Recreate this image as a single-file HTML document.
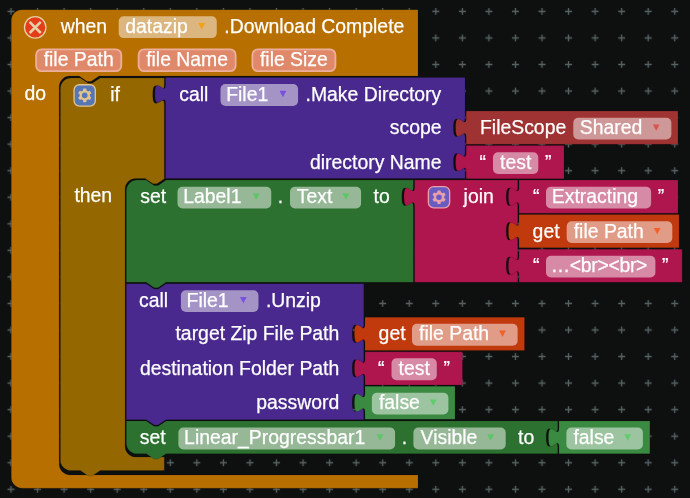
<!DOCTYPE html>
<html><head><meta charset="utf-8"><title>blocks</title>
<style>
html,body{margin:0;padding:0;background:#0e100f;}
body{width:690px;height:498px;overflow:hidden;}
svg{display:block;}
text{font-family:"Liberation Sans",sans-serif;white-space:pre;stroke:#fff;stroke-width:0.25px;stroke-linejoin:round;}
</style></head><body>
<svg width="690" height="498" viewBox="0 0 690 498">
<defs><pattern id="grid" x="-2.28" y="-1.88" width="26.55" height="26.55" patternUnits="userSpaceOnUse">
<path d="M 9.78,13.28 h 7 M 13.28,9.78 v 7" stroke="#586264" stroke-width="1.3" fill="none"/></pattern></defs>
<rect width="690" height="498" fill="#0e100f"/>
<rect width="690" height="498" fill="url(#grid)"/>
<g opacity="0.999">
<path d="M 21.92,9.7 H 418 V 76.08 H 99.03 l -7.96,5.31 -3.98,0 -7.96,-5.31 H 69.82 a 10.62,10.62 0 0,0 -10.62,10.62 V 464.28 a 10.62,10.62 0 0,0 10.62,10.62 H 418 V 488.2 H 21.92 a 10.62,10.62 0 0,1 -10.62,-10.62 V 20.32 a 10.62,10.62 0 0,1 10.62,-10.62 Z" fill="#b87000" stroke="#000" stroke-opacity="0.22" stroke-width="0.6" stroke-linejoin="round"/>
<circle cx="35.2" cy="27.4" r="10.7" fill="#e53e1a" stroke="#e9cfa3" stroke-width="1.3"/>
<path d="M 29.6,21.8 L 40.8,33 M 40.8,21.8 L 29.6,33" stroke="#ead2a8" stroke-width="2.6" fill="none"/>
<text transform="translate(60.7,32.7) scale(1,1.0)" fill="#fff" font-size="19.4">when</text>
<rect x="118.7" y="16.3" width="98.06" height="21.8" rx="5" ry="5" fill="#fff" fill-opacity="0.5"/>
<text transform="translate(125.19,32.8) scale(1,1.0)" fill="#fff" font-size="19.4">datazip</text>
<path d="M 198.26,23 h 6.8 l -3.4,6.4 z" fill="#f5a21b"/>
<text transform="translate(224.3,32.7) scale(1,1.0)" fill="#fff" font-size="19.4">.Download Complete</text>
<rect x="36.1" y="49.4" width="85.2" height="21.8" rx="5.5" ry="5.5" fill="#e08a6b" stroke="#eeb09c" stroke-width="1.8"/>
<text transform="translate(43.65,66.1) scale(1,1.0)" fill="#fff" font-size="19.4">file Path</text>
<rect x="138.6" y="49.4" width="97.04" height="21.8" rx="5.5" ry="5.5" fill="#e08a6b" stroke="#eeb09c" stroke-width="1.8"/>
<text transform="translate(146.15,66.1) scale(1,1.0)" fill="#fff" font-size="19.4">file Name</text>
<rect x="252.4" y="49.4" width="83.03" height="21.8" rx="5.5" ry="5.5" fill="#e08a6b" stroke="#eeb09c" stroke-width="1.8"/>
<text transform="translate(259.95,66.1) scale(1,1.0)" fill="#fff" font-size="19.4">file Size</text>
<text transform="translate(24.4,99.58) scale(1,1.0)" fill="#fff" font-size="19.4">do</text>
<path d="M 71.02,77.9 H 80.31 l 7.96,5.31 3.98,0 7.96,-5.31 H 164.3 v 6.64 c 0,13.27 -11.55,-10.62 -11.55,9.96 s 11.55,-3.32 11.55,9.96 V 178.39 H 164.92 l -7.96,5.31 -3.98,0 -7.96,-5.31 H 135.72 a 10.62,10.62 0 0,0 -10.62,10.62 V 446.38 a 10.62,10.62 0 0,0 10.62,10.62 H 164.3 V 470.6 H 100.22 l -7.96,5.31 -3.98,0 -7.96,-5.31 H 71.02 a 10.62,10.62 0 0,1 -10.62,-10.62 V 88.52 a 10.62,10.62 0 0,1 10.62,-10.62 Z" fill="#966800" stroke="#000" stroke-opacity="0.22" stroke-width="0.6" stroke-linejoin="round"/>
<g transform="translate(73.4,84.1) scale(1.33)">
<rect x="0.5" y="0.5" width="16" height="16" rx="4" ry="4" fill="#5877b6" stroke="#e3c48f" stroke-width="1"/>
<path transform="translate(0.5,0.5)" fill="#e3c48f" d="m4.203,7.296 0,1.368 -0.92,0.677 -0.11,0.41 0.9,1.559 0.41,0.11 1.043,-0.457 1.187,0.683 0.127,1.134 0.3,0.3 1.8,0 0.3,-0.299 0.127,-1.138 1.185,-0.682 1.046,0.458 0.409,-0.11 0.9,-1.559 -0.11,-0.41 -0.92,-0.677 0,-1.366 0.92,-0.677 0.11,-0.41 -0.9,-1.559 -0.409,-0.109 -1.046,0.458 -1.185,-0.682 -0.127,-1.138 -0.3,-0.299 -1.8,0 -0.3,0.3 -0.126,1.135 -1.187,0.682 -1.043,-0.457 -0.41,0.11 -0.899,1.559 0.108,0.409z"/>
<circle cx="8.5" cy="8.5" r="2.1" fill="#5877b6"/>
</g>
<text transform="translate(110.3,100.8) scale(1,1.0)" fill="#fff" font-size="19.4">if</text>
<text transform="translate(74.4,202.2) scale(1,1.0)" fill="#fff" font-size="19.4">then</text>
<path d="M 165.5,77.5 H 465 V 111.09 v 6.64 c 0,13.27 -11.55,-10.62 -11.55,9.96 s 11.55,-3.32 11.55,9.96 V 145.6 v 6.64 c 0,13.27 -11.55,-10.62 -11.55,9.96 s 11.55,-3.32 11.55,9.96 V 178.39 H 165.5 V 104.05 c 0,-13.27 -10.62,10.62 -10.62,-9.96 s 10.62,3.32 10.62,-9.96 V 77.5 Z" fill="#4b2a8f" stroke="#000" stroke-opacity="0.22" stroke-width="0.6" stroke-linejoin="round"/>
<text transform="translate(179.2,100.5) scale(1,1.0)" fill="#fff" font-size="19.4">call</text>
<rect x="220.5" y="84.1" width="77.55" height="21.8" rx="5" ry="5" fill="#fff" fill-opacity="0.5"/>
<text transform="translate(226.21,100.6) scale(1,1.0)" fill="#fff" font-size="19.4">File1</text>
<path d="M 279.55,90.8 h 6.8 l -3.4,6.4 z" fill="#7a50e0"/>
<text transform="translate(305.5,100.5) scale(1,1.0)" fill="#fff" font-size="19.4">.Make Directory</text>
<text transform="translate(441.5,134.09) scale(1,1.0)" fill="#fff" font-size="19.4" text-anchor="end">scope</text>
<text transform="translate(441.5,168.6) scale(1,1.0)" fill="#fff" font-size="19.4" text-anchor="end">directory Name</text>
<path d="M 466.2,111.09 H 678 V 144.28 H 466.2 V 137.64 c 0,-13.27 -10.62,10.62 -10.62,-9.96 s 10.62,3.32 10.62,-9.96 V 111.09 Z" fill="#a03333" stroke="#000" stroke-opacity="0.22" stroke-width="0.6" stroke-linejoin="round"/>
<text transform="translate(480,134.09) scale(1,1.0)" fill="#fff" font-size="19.4">FileScope</text>
<rect x="573.3" y="117.69" width="98.06" height="21.8" rx="5" ry="5" fill="#fff" fill-opacity="0.5"/>
<text transform="translate(579.72,134.19) scale(1,1.0)" fill="#fff" font-size="19.4">Shared</text>
<path d="M 652.86,124.39 h 6.8 l -3.4,6.4 z" fill="#d9564f"/>
<path d="M 466.2,145.6 H 564 V 178.79 H 466.2 V 172.15 c 0,-13.27 -10.62,10.62 -10.62,-9.96 s 10.62,3.32 10.62,-9.96 V 145.6 Z" fill="#b0174f" stroke="#000" stroke-opacity="0.22" stroke-width="0.6" stroke-linejoin="round"/>
<text transform="translate(479.5,168.6) scale(1,1.0)" fill="#fff" font-size="19.4">“</text>
<rect x="493" y="152.2" width="45.27" height="21.8" rx="5" ry="5" fill="#fff" fill-opacity="0.5"/>
<text transform="translate(500.11,168.6) scale(1,1.0)" fill="#fff" font-size="19.4">test</text>
<text transform="translate(544.97,168.6) scale(1,1.0)" fill="#fff" font-size="19.4">”</text>
<path d="M 136.92,180.1 H 146.21 l 7.96,5.31 3.98,0 7.96,-5.31 H 413.4 v 6.64 c 0,13.27 -11.55,-10.62 -11.55,9.96 s 11.55,-3.32 11.55,9.96 V 282.32 H 166.12 l -7.96,5.31 -3.98,0 -7.96,-5.31 H 126.3 V 190.72 a 10.62,10.62 0 0,1 10.62,-10.62 Z" fill="#2e7231" stroke="#000" stroke-opacity="0.22" stroke-width="0.6" stroke-linejoin="round"/>
<text transform="translate(140.2,203.1) scale(1,1.0)" fill="#fff" font-size="19.4">set</text>
<rect x="177.5" y="186.7" width="93.76" height="21.8" rx="5" ry="5" fill="#fff" fill-opacity="0.5"/>
<text transform="translate(183.21,203.2) scale(1,1.0)" fill="#fff" font-size="19.4">Label1</text>
<path d="M 252.76,193.4 h 6.8 l -3.4,6.4 z" fill="#5fc66a"/>
<text transform="translate(277.86,203.1) scale(1,1.0)" fill="#fff" font-size="19.4">.</text>
<rect x="290" y="186.7" width="71.08" height="21.8" rx="5" ry="5" fill="#fff" fill-opacity="0.5"/>
<text transform="translate(296.86,203.2) scale(1,1.0)" fill="#fff" font-size="19.4">Text</text>
<path d="M 342.58,193.4 h 6.8 l -3.4,6.4 z" fill="#5fc66a"/>
<text transform="translate(373.6,203.1) scale(1,1.0)" fill="#fff" font-size="19.4">to</text>
<path d="M 414.6,180.1 H 517.8 V 180.1 v 6.64 c 0,13.27 -11.55,-10.62 -11.55,9.96 s 11.55,-3.32 11.55,9.96 V 214.62 v 6.64 c 0,13.27 -11.55,-10.62 -11.55,9.96 s 11.55,-3.32 11.55,9.96 V 249.13 v 6.64 c 0,13.27 -11.55,-10.62 -11.55,9.96 s 11.55,-3.32 11.55,9.96 V 282.32 H 414.6 V 206.65 c 0,-13.27 -10.62,10.62 -10.62,-9.96 s 10.62,3.32 10.62,-9.96 V 180.1 Z" fill="#b0174f" stroke="#000" stroke-opacity="0.22" stroke-width="0.6" stroke-linejoin="round"/>
<g transform="translate(427.7,185.9) scale(1.33)">
<rect x="0.5" y="0.5" width="16" height="16" rx="4" ry="4" fill="#6a5cc0" stroke="#e9a1ad" stroke-width="1"/>
<path transform="translate(0.5,0.5)" fill="#e9a1ad" d="m4.203,7.296 0,1.368 -0.92,0.677 -0.11,0.41 0.9,1.559 0.41,0.11 1.043,-0.457 1.187,0.683 0.127,1.134 0.3,0.3 1.8,0 0.3,-0.299 0.127,-1.138 1.185,-0.682 1.046,0.458 0.409,-0.11 0.9,-1.559 -0.11,-0.41 -0.92,-0.677 0,-1.366 0.92,-0.677 0.11,-0.41 -0.9,-1.559 -0.409,-0.109 -1.046,0.458 -1.185,-0.682 -0.127,-1.138 -0.3,-0.299 -1.8,0 -0.3,0.3 -0.126,1.135 -1.187,0.682 -1.043,-0.457 -0.41,0.11 -0.899,1.559 0.108,0.409z"/>
<circle cx="8.5" cy="8.5" r="2.1" fill="#6a5cc0"/>
</g>
<text transform="translate(463.6,203.1) scale(1,1.0)" fill="#fff" font-size="19.4">join</text>
<path d="M 519,180.1 H 678 V 213.29 H 519 V 206.65 c 0,-13.27 -10.62,10.62 -10.62,-9.96 s 10.62,3.32 10.62,-9.96 V 180.1 Z" fill="#b0174f" stroke="#000" stroke-opacity="0.22" stroke-width="0.6" stroke-linejoin="round"/>
<text transform="translate(533,203.1) scale(1,1.0)" fill="#fff" font-size="19.4">“</text>
<rect x="546" y="186.7" width="105.1" height="21.8" rx="5" ry="5" fill="#fff" fill-opacity="0.5"/>
<text transform="translate(551.81,203.1) scale(1,1.0)" fill="#fff" font-size="19.4">Extracting </text>
<text transform="translate(657.8,203.1) scale(1,1.0)" fill="#fff" font-size="19.4">”</text>
<path d="M 519,214.62 H 679 V 247.8 H 519 V 241.17 c 0,-13.27 -10.62,10.62 -10.62,-9.96 s 10.62,3.32 10.62,-9.96 V 214.62 Z" fill="#c23b0f" stroke="#000" stroke-opacity="0.22" stroke-width="0.6" stroke-linejoin="round"/>
<text transform="translate(532.6,237.62) scale(1,1.0)" fill="#fff" font-size="19.4">get</text>
<rect x="566.7" y="221.22" width="105.6" height="21.8" rx="5" ry="5" fill="#fff" fill-opacity="0.5"/>
<text transform="translate(573.73,237.72) scale(1,1.0)" fill="#fff" font-size="19.4">file Path</text>
<path d="M 653.8,227.91 h 6.8 l -3.4,6.4 z" fill="#f2622b"/>
<path d="M 519,249.13 H 682.2 V 282.32 H 519 V 275.68 c 0,-13.27 -10.62,10.62 -10.62,-9.96 s 10.62,3.32 10.62,-9.96 V 249.13 Z" fill="#b0174f" stroke="#000" stroke-opacity="0.22" stroke-width="0.6" stroke-linejoin="round"/>
<text transform="translate(533,272.13) scale(1,1.0)" fill="#fff" font-size="19.4">“</text>
<rect x="546" y="255.73" width="109.4" height="21.8" rx="5" ry="5" fill="#fff" fill-opacity="0.5"/>
<text transform="translate(550.77,272.13) scale(1,1.0)" fill="#fff" font-size="19.4" textLength="96.6" lengthAdjust="spacing">…&lt;br&gt;&lt;br&gt;</text>
<text transform="translate(662.1,272.13) scale(1,1.0)" fill="#fff" font-size="19.4">”</text>
<path d="M 126.3,283.64 H 146.21 l 7.96,5.31 3.98,0 7.96,-5.31 H 363.8 V 317.23 v 6.64 c 0,13.27 -11.55,-10.62 -11.55,9.96 s 11.55,-3.32 11.55,9.96 V 351.75 v 6.64 c 0,13.27 -11.55,-10.62 -11.55,9.96 s 11.55,-3.32 11.55,9.96 V 386.16 v 6.64 c 0,13.27 -11.55,-10.62 -11.55,9.96 s 11.55,-3.32 11.55,9.96 V 419.65 H 166.12 l -7.96,5.31 -3.98,0 -7.96,-5.31 H 126.3 Z" fill="#4b2a8f" stroke="#000" stroke-opacity="0.22" stroke-width="0.6" stroke-linejoin="round"/>
<text transform="translate(139,306.64) scale(1,1.0)" fill="#fff" font-size="19.4">call</text>
<rect x="180.9" y="290.25" width="77.55" height="21.8" rx="5" ry="5" fill="#fff" fill-opacity="0.5"/>
<text transform="translate(186.61,306.75) scale(1,1.0)" fill="#fff" font-size="19.4">File1</text>
<path d="M 239.95,296.94 h 6.8 l -3.4,6.4 z" fill="#7a50e0"/>
<text transform="translate(265.9,306.64) scale(1,1.0)" fill="#fff" font-size="19.4">.Unzip</text>
<text transform="translate(339.3,340.23) scale(1,1.0)" fill="#fff" font-size="19.4" text-anchor="end">target Zip File Path</text>
<text transform="translate(339.3,374.75) scale(1,1.0)" fill="#fff" font-size="19.4" text-anchor="end">destination Folder Path</text>
<text transform="translate(339.3,409.16) scale(1,1.0)" fill="#fff" font-size="19.4" text-anchor="end">password</text>
<path d="M 365,317.23 H 524.5 V 350.42 H 365 V 343.78 c 0,-13.27 -10.62,10.62 -10.62,-9.96 s 10.62,3.32 10.62,-9.96 V 317.23 Z" fill="#c23b0f" stroke="#000" stroke-opacity="0.22" stroke-width="0.6" stroke-linejoin="round"/>
<text transform="translate(378.6,340.23) scale(1,1.0)" fill="#fff" font-size="19.4">get</text>
<rect x="412" y="323.83" width="105.6" height="21.8" rx="5" ry="5" fill="#fff" fill-opacity="0.5"/>
<text transform="translate(419.03,340.33) scale(1,1.0)" fill="#fff" font-size="19.4">file Path</text>
<path d="M 499.1,330.53 h 6.8 l -3.4,6.4 z" fill="#f2622b"/>
<path d="M 365,351.75 H 462.5 V 384.93 H 365 V 378.3 c 0,-13.27 -10.62,10.62 -10.62,-9.96 s 10.62,3.32 10.62,-9.96 V 351.75 Z" fill="#b0174f" stroke="#000" stroke-opacity="0.22" stroke-width="0.6" stroke-linejoin="round"/>
<text transform="translate(378.1,374.75) scale(1,1.0)" fill="#fff" font-size="19.4">“</text>
<rect x="391.5" y="358.35" width="45.27" height="21.8" rx="5" ry="5" fill="#fff" fill-opacity="0.5"/>
<text transform="translate(398.61,374.75) scale(1,1.0)" fill="#fff" font-size="19.4">test</text>
<text transform="translate(443.47,374.75) scale(1,1.0)" fill="#fff" font-size="19.4">”</text>
<path d="M 365,386.16 H 455 V 419.35 H 365 V 412.71 c 0,-13.27 -10.62,10.62 -10.62,-9.96 s 10.62,3.32 10.62,-9.96 V 386.16 Z" fill="#3c8b43" stroke="#000" stroke-opacity="0.22" stroke-width="0.6" stroke-linejoin="round"/>
<rect x="371.9" y="392.76" width="76.48" height="21.8" rx="5" ry="5" fill="#fff" fill-opacity="0.5"/>
<text transform="translate(378.93,409.26) scale(1,1.0)" fill="#fff" font-size="19.4">false</text>
<path d="M 429.88,399.46 h 6.8 l -3.4,6.4 z" fill="#62cc70"/>
<path d="M 126.3,420.98 H 146.21 l 7.96,5.31 3.98,0 7.96,-5.31 H 557.8 v 6.64 c 0,13.27 -11.55,-10.62 -11.55,9.96 s 11.55,-3.32 11.55,9.96 V 453.76 H 166.12 l -7.96,5.31 -3.98,0 -7.96,-5.31 H 136.92 a 10.62,10.62 0 0,1 -10.62,-10.62 Z" fill="#2e7231" stroke="#000" stroke-opacity="0.22" stroke-width="0.6" stroke-linejoin="round"/>
<text transform="translate(139.7,443.98) scale(1,1.0)" fill="#fff" font-size="19.4">set</text>
<rect x="178.4" y="427.58" width="216.68" height="21.8" rx="5" ry="5" fill="#fff" fill-opacity="0.5"/>
<text transform="translate(184.11,444.08) scale(1,1.0)" fill="#fff" font-size="19.4">Linear_Progressbar1</text>
<path d="M 376.58,434.28 h 6.8 l -3.4,6.4 z" fill="#5fc66a"/>
<text transform="translate(401.68,443.98) scale(1,1.0)" fill="#fff" font-size="19.4">.</text>
<rect x="413.4" y="427.58" width="92.3" height="21.8" rx="5" ry="5" fill="#fff" fill-opacity="0.5"/>
<text transform="translate(420.61,444.08) scale(1,1.0)" fill="#fff" font-size="19.4">Visible</text>
<path d="M 487.2,434.28 h 6.8 l -3.4,6.4 z" fill="#5fc66a"/>
<text transform="translate(518,443.98) scale(1,1.0)" fill="#fff" font-size="19.4">to</text>
<path d="M 559,420.98 H 649.9 V 453.76 H 559 V 447.53 c 0,-13.27 -10.62,10.62 -10.62,-9.96 s 10.62,3.32 10.62,-9.96 V 420.98 Z" fill="#3c8b43" stroke="#000" stroke-opacity="0.22" stroke-width="0.6" stroke-linejoin="round"/>
<rect x="566.4" y="427.58" width="76.48" height="21.8" rx="5" ry="5" fill="#fff" fill-opacity="0.5"/>
<text transform="translate(573.43,444.08) scale(1,1.0)" fill="#fff" font-size="19.4">false</text>
<path d="M 624.38,434.28 h 6.8 l -3.4,6.4 z" fill="#62cc70"/>
</g>
</svg>
</body></html>
